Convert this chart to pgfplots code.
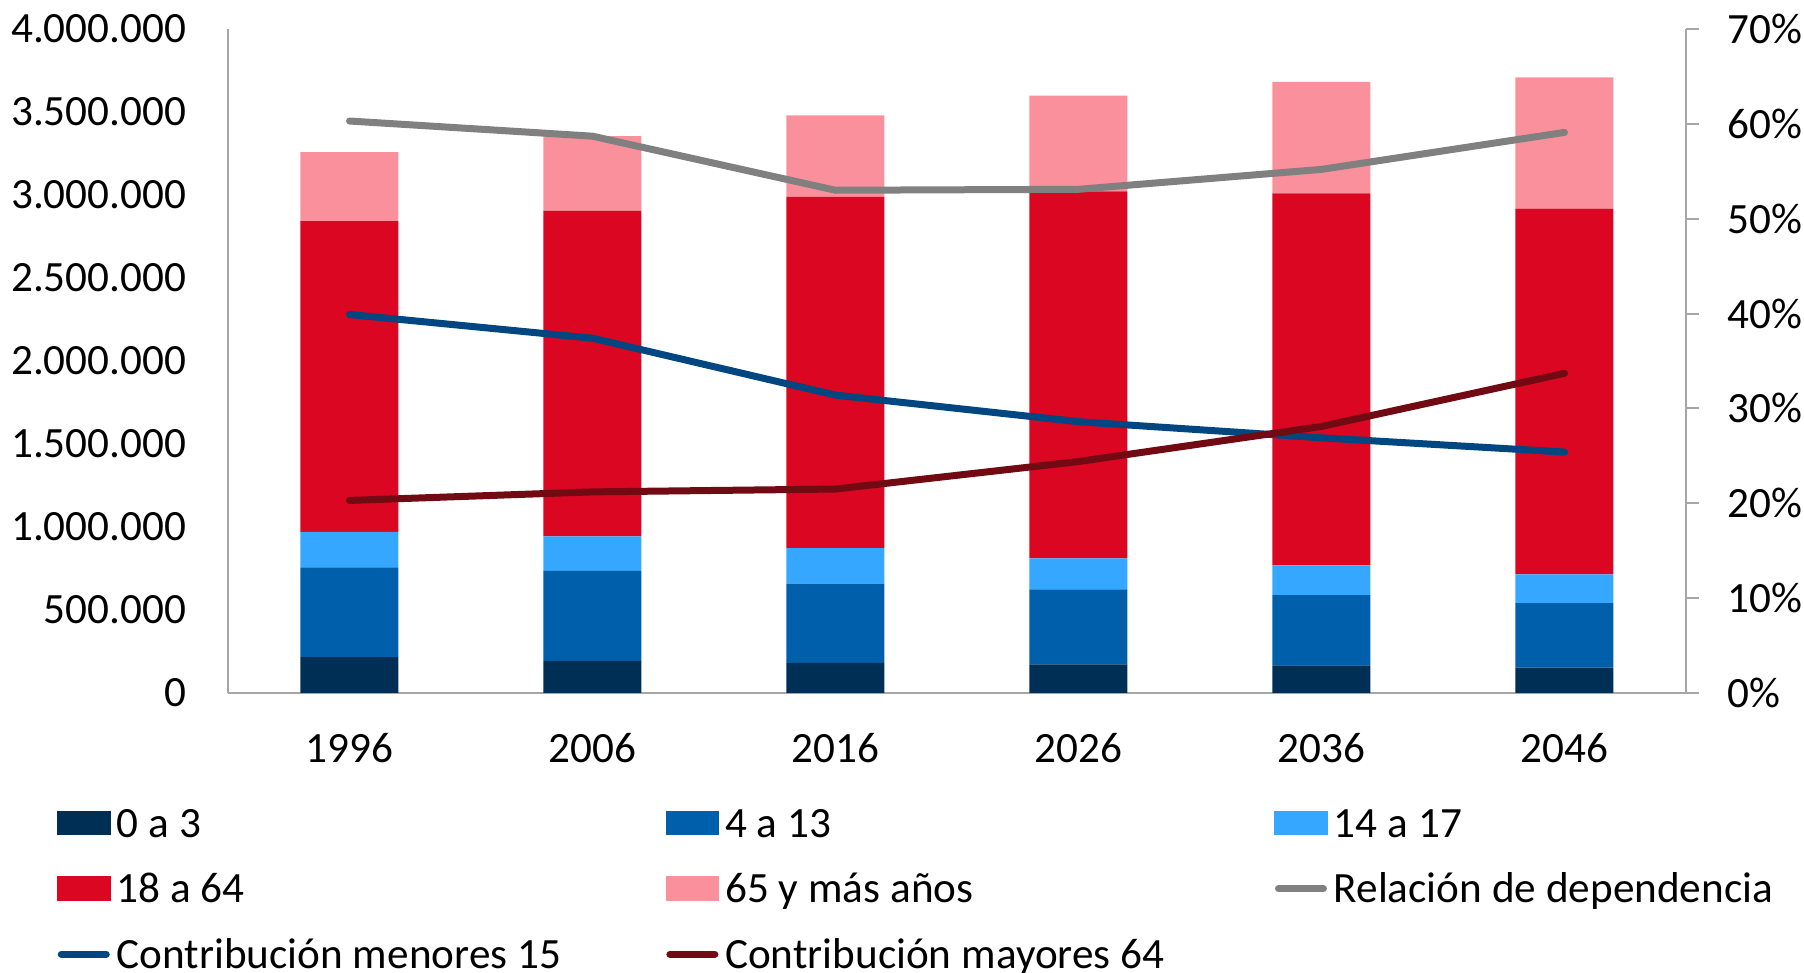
\documentclass[border=0pt]{standalone}
\usepackage{pgfplots}
\usepackage{pgfplotstable}
\pgfplotsset{compat=1.18}
\usepackage{fontspec}
\setmainfont{Carlito}
\DeclareRobustCommand\sk{\spaceskip=0.23em\relax}
\definecolor{cA}{HTML}{002F55}
\definecolor{cB}{HTML}{005FAA}
\definecolor{cC}{HTML}{36A7FF}
\definecolor{cD}{HTML}{DA0622}
\definecolor{cE}{HTML}{FA909C}
\definecolor{cG}{HTML}{808080}
\definecolor{cM}{HTML}{004680}
\definecolor{cR}{HTML}{720A14}
\definecolor{axgray}{HTML}{A6A6A6}
\pgfplotstableread{
x a b c d e
0 216000 540000 214000 1872000 416000
1 194000 541000 208000 1962000 450000
2 181000 478000 214000 2115000 492000
3 173000 451000 187000 2211000 576000
4 166000 423000 180000 2240000 672000
5 153000 388000 173000 2204000 791000
}\bars
\begin{document}
\begin{tikzpicture}
\path[use as bounding box] (0,0) rectangle (451pt,243.25pt);
\begin{axis}[
  at={(57pt,70pt)}, anchor=south west,
  scale only axis, width=364.5pt, height=166pt,
  xmin=-0.5, xmax=5.5, ymin=0, ymax=4000000,
  ybar stacked, bar width=24.5pt,
  axis x line*=bottom, axis y line*=left,
  axis line style={-, draw=axgray, line width=0.5pt},
  xtick={0,...,5}, xticklabels={1996,2006,2016,2026,2036,2046},
  ytick={0,500000,...,4000000},
  scaled y ticks=false,
  /pgf/number format/assume math mode=true,
  /pgf/number format/fixed,
  /pgf/number format/1000 sep={.},
  tick style={draw=none},
  every tick label/.append style={font=\fontsize{10.8}{13}\selectfont, inner sep=0pt},
  yticklabel style={xshift=-10.25pt},
  xticklabel style={yshift=-10pt},
]
\addplot[fill=cA, draw=none] table[x=x,y=a] \bars;
\addplot[fill=cB, draw=none] table[x=x,y=b] \bars;
\addplot[fill=cC, draw=none] table[x=x,y=c] \bars;
\addplot[fill=cD, draw=none] table[x=x,y=d] \bars;
\addplot[fill=cE, draw=none] table[x=x,y=e] \bars;
\end{axis}
\begin{axis}[
  at={(57pt,70pt)}, anchor=south west,
  scale only axis, width=364.5pt, height=166pt,
  xmin=-0.5, xmax=5.5, ymin=0, ymax=70,
  axis y line*=right, axis x line=none,
  axis line style={-, draw=axgray, line width=0.5pt},
  ytick={0,10,...,70},
  /pgf/number format/assume math mode=true,
  yticklabel={\pgfmathprintnumber{\tick}\%},
  tick align=outside, major tick length=3.25pt,
  tick style={draw=axgray, line width=0.5pt},
  every tick label/.append style={font=\fontsize{10.8}{13}\selectfont, inner sep=0pt},
  yticklabel style={xshift=7pt},
  legend style={
    at={(axis description cs:-0.1173,-0.1687)}, anchor=north west,
    draw=none, fill=none, inner sep=0pt, outer sep=0pt,
    font=\fontsize{10.8}{12}\selectfont,
    nodes={inner sep=0pt, text height=8.0pt, text depth=1.0pt, text width=137.25pt, align=left},
    /tikz/every odd column/.append style={column sep=1.5pt},
    row sep=7.4pt,
  },
  legend columns=3,
  legend cell align=left,
  legend image code/.code={\draw[#1] (0.875pt,0pt) -- (12.125pt,0pt);},
]
\addlegendimage{legend image code/.code={\fill[cA] (0pt,-2.9pt) rectangle (13pt,2.9pt);}}
\addlegendentry{\sk 0 a 3}
\addlegendimage{legend image code/.code={\fill[cB] (0pt,-2.9pt) rectangle (13pt,2.9pt);}}
\addlegendentry{\sk 4 a 13}
\addlegendimage{legend image code/.code={\fill[cC] (0pt,-2.9pt) rectangle (13pt,2.9pt);}}
\addlegendentry{\sk 14 a 17}
\addlegendimage{legend image code/.code={\fill[cD] (0pt,-2.9pt) rectangle (13pt,2.9pt);}}
\addlegendentry{\sk 18 a 64}
\addlegendimage{legend image code/.code={\fill[cE] (0pt,-2.9pt) rectangle (13pt,2.9pt);}}
\addlegendentry{\sk 65 y más años}
\addplot[cG, line width=1.75pt, line cap=round, line join=round, mark=none]
  coordinates {(0,60.3) (1,58.7) (2,53.0) (3,53.1) (4,55.2) (5,59.1)};
\addlegendentry{\sk Relación de dependencia}
\addplot[cM, line width=1.75pt, line cap=round, line join=round, mark=none]
  coordinates {(0,39.9) (1,37.4) (2,31.4) (3,28.6) (4,26.9) (5,25.4)};
\addlegendentry{\sk Contribución menores 15}
\addplot[cR, line width=1.75pt, line cap=round, line join=round, mark=none]
  coordinates {(0,20.3) (1,21.2) (2,21.5) (3,24.4) (4,28.1) (5,33.7)};
\addlegendentry{\sk Contribución mayores 64}
\end{axis}
\end{tikzpicture}
\end{document}
